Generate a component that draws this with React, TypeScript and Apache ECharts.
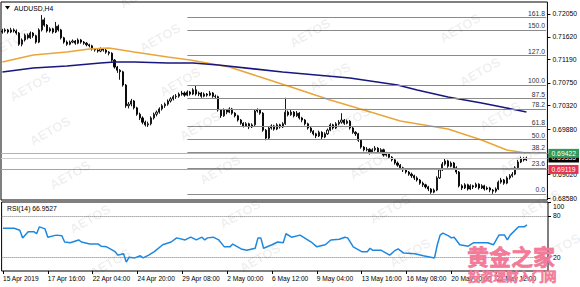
import React, { useEffect, useRef } from "react";
import * as echarts from "echarts";

const tickLabels = ["15 Apr 2019", "17 Apr 16:00", "22 Apr 04:00", "24 Apr 20:00", "29 Apr 08:00", "2 May 00:00", "6 May 12:00", "9 May 04:00", "13 May 16:00", "16 May 08:00", "20 May 20:00", "23 May 12:00"];
const barsPerLabel = 16;
const totalSlots = 195;

const opens = [
  0.7171,0.7173,0.7175,0.7171,0.7175,0.7173,0.7169,0.7148,0.7156,0.7165,
  0.7160,0.7169,0.7164,0.7152,0.7175,0.7194,0.7184,0.7173,0.7177,0.7171,
  0.7182,0.7175,0.7160,0.7152,0.7148,0.7152,0.7154,0.7150,0.7156,0.7152,
  0.7150,0.7147,0.7145,0.7139,0.7137,0.7135,0.7139,0.7137,0.7133,0.7131,
  0.7118,0.7105,0.7099,0.7096,0.7071,0.7032,0.7035,0.7041,0.7028,0.7016,
  0.7009,0.7001,0.6996,0.6998,0.7009,0.7016,0.7020,0.7026,0.7032,0.7035,
  0.7041,0.7045,0.7049,0.7050,0.7054,0.7056,0.7052,0.7058,0.7054,0.7062,
  0.7054,0.7056,0.7050,0.7054,0.7052,0.7056,0.7050,0.7049,0.7024,0.7013,
  0.7024,0.7020,0.7026,0.7018,0.7013,0.7005,0.6999,0.6994,0.6998,0.6992,
  0.6996,0.7022,0.7024,0.7018,0.6986,0.6971,0.6990,0.6994,0.6988,0.6996,
  0.6992,0.6998,0.7020,0.7015,0.7020,0.7013,0.7018,0.7009,0.7005,0.6998,
  0.6990,0.6984,0.6979,0.6975,0.6982,0.6973,0.6979,0.6986,0.6996,0.6990,
  0.6998,0.7001,0.7005,0.6999,0.7003,0.6990,0.6982,0.6979,0.6967,0.6954,
  0.6949,0.6950,0.6943,0.6949,0.6952,0.6945,0.6949,0.6939,0.6941,0.6935,
  0.6930,0.6924,0.6920,0.6915,0.6911,0.6907,0.6903,0.6900,0.6896,0.6892,
  0.6886,0.6883,0.6879,0.6875,0.6869,0.6873,0.6896,0.6911,0.6922,0.6928,
  0.6918,0.6924,0.6915,0.6907,0.6881,0.6877,0.6883,0.6875,0.6881,0.6879,
  0.6884,0.6877,0.6881,0.6875,0.6877,0.6873,0.6871,0.6875,0.6888,0.6892,
  0.6886,0.6896,0.6900,0.6903,0.6915,0.6926,0.6932,0.6930
];
const closes = [
  0.7173,0.7175,0.7171,0.7175,0.7173,0.7169,0.7148,0.7156,0.7165,0.7160,
  0.7169,0.7164,0.7152,0.7175,0.7194,0.7184,0.7173,0.7177,0.7171,0.7182,
  0.7175,0.7160,0.7152,0.7148,0.7152,0.7154,0.7150,0.7156,0.7152,0.7150,
  0.7147,0.7145,0.7139,0.7137,0.7135,0.7139,0.7137,0.7133,0.7131,0.7118,
  0.7105,0.7099,0.7096,0.7071,0.7032,0.7035,0.7041,0.7028,0.7016,0.7009,
  0.7001,0.6996,0.6998,0.7009,0.7016,0.7020,0.7026,0.7032,0.7035,0.7041,
  0.7045,0.7049,0.7050,0.7054,0.7056,0.7052,0.7058,0.7054,0.7062,0.7054,
  0.7056,0.7050,0.7054,0.7052,0.7056,0.7050,0.7049,0.7024,0.7013,0.7024,
  0.7020,0.7026,0.7018,0.7013,0.7005,0.6999,0.6994,0.6998,0.6992,0.6996,
  0.7022,0.7024,0.7018,0.6986,0.6971,0.6990,0.6994,0.6988,0.6996,0.6992,
  0.6998,0.7020,0.7015,0.7020,0.7013,0.7018,0.7009,0.7005,0.6998,0.6990,
  0.6984,0.6979,0.6975,0.6982,0.6973,0.6979,0.6986,0.6996,0.6990,0.6998,
  0.7001,0.7005,0.6999,0.7003,0.6990,0.6982,0.6979,0.6967,0.6954,0.6949,
  0.6950,0.6943,0.6949,0.6952,0.6945,0.6949,0.6939,0.6941,0.6935,0.6930,
  0.6924,0.6920,0.6915,0.6911,0.6907,0.6903,0.6900,0.6896,0.6892,0.6886,
  0.6883,0.6879,0.6875,0.6869,0.6873,0.6896,0.6911,0.6922,0.6928,0.6918,
  0.6924,0.6915,0.6907,0.6881,0.6877,0.6883,0.6875,0.6881,0.6879,0.6884,
  0.6877,0.6881,0.6875,0.6877,0.6873,0.6871,0.6875,0.6888,0.6892,0.6886,
  0.6896,0.6900,0.6903,0.6915,0.6926,0.6932,0.6930,0.69335
];
const lows = [
  0.7168,0.7170,0.7168,0.7169,0.7170,0.7166,0.7145,0.7144,0.7153,0.7157,
  0.7158,0.7160,0.7149,0.7150,0.7172,0.7181,0.7170,0.7170,0.7168,0.7169,
  0.7172,0.7157,0.7149,0.7145,0.7146,0.7150,0.7147,0.7148,0.7149,0.7147,
  0.7144,0.7142,0.7136,0.7134,0.7132,0.7133,0.7134,0.7130,0.7127,0.7115,
  0.7102,0.7094,0.7081,0.7068,0.7028,0.7027,0.7031,0.7025,0.7013,0.7005,
  0.6997,0.6993,0.6992,0.6995,0.7006,0.7012,0.7017,0.7023,0.7028,0.7032,
  0.7038,0.7042,0.7045,0.7047,0.7051,0.7049,0.7050,0.7051,0.7052,0.7051,
  0.7050,0.7047,0.7048,0.7049,0.7050,0.7047,0.7045,0.7021,0.7009,0.7011,
  0.7016,0.7018,0.7015,0.7010,0.7002,0.6996,0.6991,0.6992,0.6988,0.6990,
  0.6994,0.7019,0.7015,0.6983,0.6967,0.6969,0.6987,0.6985,0.6986,0.6989,
  0.6990,0.6996,0.7012,0.7013,0.7010,0.7011,0.7006,0.7001,0.6995,0.6987,
  0.6981,0.6976,0.6971,0.6973,0.6969,0.6971,0.6977,0.6984,0.6987,0.6988,
  0.6995,0.6998,0.6996,0.6997,0.6987,0.6979,0.6975,0.6964,0.6951,0.6946,
  0.6946,0.6940,0.6941,0.6946,0.6942,0.6943,0.6936,0.6936,0.6932,0.6927,
  0.6921,0.6917,0.6911,0.6907,0.6904,0.6900,0.6896,0.6892,0.6889,0.6883,
  0.6879,0.6876,0.6871,0.6866,0.6867,0.6871,0.6894,0.6909,0.6919,0.6915,
  0.6916,0.6911,0.6903,0.6878,0.6873,0.6875,0.6872,0.6873,0.6875,0.6877,
  0.6874,0.6875,0.6872,0.6873,0.6869,0.6866,0.6868,0.6873,0.6885,0.6883,
  0.6884,0.6893,0.6897,0.6901,0.6913,0.6924,0.6927,0.6928
];
const highs = [
  0.7177,0.7178,0.7177,0.7179,0.7178,0.7176,0.7171,0.7159,0.7168,0.7168,
  0.7172,0.7171,0.7166,0.7178,0.7203,0.7198,0.7186,0.7180,0.7179,0.7190,
  0.7185,0.7177,0.7162,0.7155,0.7155,0.7157,0.7156,0.7159,0.7158,0.7154,
  0.7152,0.7149,0.7147,0.7141,0.7140,0.7142,0.7141,0.7139,0.7135,0.7133,
  0.7120,0.7107,0.7101,0.7098,0.7073,0.7039,0.7045,0.7043,0.7030,0.7019,
  0.7012,0.7004,0.7002,0.7012,0.7019,0.7023,0.7029,0.7035,0.7038,0.7044,
  0.7048,0.7052,0.7054,0.7057,0.7060,0.7059,0.7061,0.7060,0.7065,0.7071,
  0.7059,0.7058,0.7057,0.7056,0.7060,0.7058,0.7053,0.7051,0.7026,0.7027,
  0.7026,0.7029,0.7028,0.7020,0.7015,0.7007,0.7001,0.7001,0.7000,0.6999,
  0.7025,0.7027,0.7026,0.7020,0.6988,0.6993,0.6997,0.6996,0.6999,0.6998,
  0.7001,0.7047,0.7023,0.7024,0.7022,0.7022,0.7020,0.7011,0.7007,0.7000,
  0.6992,0.6986,0.6981,0.6985,0.6984,0.6982,0.6989,0.6999,0.6998,0.7001,
  0.7005,0.7018,0.7007,0.7006,0.7005,0.6992,0.6984,0.6981,0.6969,0.6956,
  0.6954,0.6952,0.6952,0.6956,0.6954,0.6952,0.6951,0.6945,0.6943,0.6937,
  0.6932,0.6927,0.6922,0.6917,0.6914,0.6909,0.6906,0.6902,0.6899,0.6894,
  0.6889,0.6885,0.6881,0.6877,0.6876,0.6899,0.6914,0.6926,0.6932,0.6930,
  0.6927,0.6926,0.6918,0.6909,0.6884,0.6886,0.6885,0.6884,0.6883,0.6887,
  0.6886,0.6884,0.6883,0.6880,0.6879,0.6875,0.6878,0.6891,0.6896,0.6894,
  0.6899,0.6903,0.6907,0.6918,0.6930,0.6936,0.6935,0.6936
];

// moving averages as [barIndex, value]
const maOrange = [[0,0.71145],[11,0.71277],[23,0.71333],[31,0.71390],[38,0.71409],[47,0.71333],[59,0.71239],[67,0.71183],[81,0.71051],[92,0.70862],[103,0.70673],[117,0.70428],[129,0.70240],[142,0.70032],[159,0.69881],[171,0.69674],[180,0.69485],[187,0.69429]];
const maNavy = [[0,0.70956],[11,0.71032],[23,0.71069],[35,0.71126],[40,0.71145],[47,0.71145],[59,0.71126],[68,0.71126],[77,0.71088],[100,0.70956],[124,0.70843],[141,0.70711],[148,0.70617],[159,0.70485],[171,0.70372],[180,0.70277],[187,0.70202]];

const rsiValues = [[0,62],[4,62],[6,59],[7,48],[9,57],[11,57],[12,54],[13,64],[15,61],[16,49],[19,52],[21,51],[22,42],[24,41],[27,45],[28,42],[31,39],[34,39],[35,36],[37,35],[40,28],[41,23],[43,25],[44,13],[45,20],[47,19],[49,22],[50,19],[52,23],[54,28],[57,38],[60,42],[62,48],[65,45],[67,49],[69,45],[71,49],[72,45],[73,48],[75,49],[77,45],[79,35],[81,35],[82,39],[85,32],[87,30],[90,33],[91,48],[92,48],[93,33],[96,38],[98,42],[100,41],[101,54],[103,49],[106,52],[110,42],[112,35],[115,38],[117,45],[120,46],[122,49],[123,48],[125,35],[128,28],[130,28],[131,33],[132,30],[135,30],[138,23],[140,30],[141,32],[143,26],[147,25],[150,22],[154,19],[155,38],[156,52],[157,55],[159,51],[160,48],[161,49],[163,38],[166,36],[168,41],[171,41],[173,41],[175,38],[177,52],[179,52],[180,45],[181,52],[184,64],[186,64],[187,66.95]];
const rsiLabel = "RSI(14) 66.9527";
const rsiLevels = [80, 20];
const rsiTicks = [100, 80, 20];

const priceTicks = [0.7205, 0.7162, 0.7119, 0.7075, 0.7032, 0.6988, 0.6902, 0.6858];
const fibLow = 0.68655;
const fibHigh = 0.70711;
const fibStart = 66;
const fibLevels = [0, 23.6, 38.2, 50, 61.8, 78.2, 87.5, 100, 127, 150, 161.8];
const greenLevel = 0.69422;
const bidLevel = 0.69335;
const redLevel = 0.69119;

const FONT = "Liberation Sans";

export default function App() {
  const ref = useRef<HTMLDivElement>(null);
  useEffect(() => {
    const chart = echarts.init(ref.current!, null, { renderer: "svg" });
    const cats = Array.from({ length: totalSlots }, (_, i) => String(i));
    const candleData = opens.map((o, i) => [o, closes[i], lows[i], highs[i]]);

    const fibData: any[] = fibLevels.map((l) => {
      const p = fibLow + ((fibHigh - fibLow) * l) / 100;
      return [
        {
          coord: [fibStart, p],
          name: l.toFixed(1),
          lineStyle: { color: "#8a8a8a", width: 1, type: "solid" },
          label: { show: true, position: "insideEndTop", formatter: "{b}", fontSize: 6.8, color: "#333", distance: 1, fontFamily: FONT },
        },
        { coord: [totalSlots - 1, p] },
      ];
    });
    const boxLabel = (bg: string, v: number) => ({
      show: true,
      position: "end",
      formatter: v.toFixed(5),
      backgroundColor: bg,
      color: "#fff",
      fontSize: 6.8,
      fontFamily: FONT,
      padding: [1, 3, 1, 3],
      distance: 1,
    });
    const hLines: any[] = [
      { yAxis: bidLevel, lineStyle: { color: "#cfcfcf", width: 1, type: "solid" }, label: boxLabel("#000", bidLevel) },
      { yAxis: greenLevel, lineStyle: { color: "#9fbf9f", width: 1, type: "solid" }, label: boxLabel("#2f9a5a", greenLevel) },
      { yAxis: redLevel, lineStyle: { color: "#d0909a", width: 1, type: "solid" }, label: boxLabel("#e23350", redLevel) },
    ];

    // watermark lattice
    const marks: any[] = [];
    for (let k = -2; k <= 4; k++) {
      for (let j = -2; j <= 7; j++) {
        const x = 160 + 150 * k + 20 * j;
        const y = 38 - 5 * k + 44 * j;
        if (x < -20 || x > 600 || y < -10 || y > 295) continue;
        marks.push({
          type: "text", x, y, rotation: Math.PI / 6, silent: true, z: 50,
          style: { text: "AETOS", align: "center", verticalAlign: "middle", fontSize: 13, fontWeight: "bold", fontFamily: FONT, fill: "rgba(0,0,0,0.075)" },
        });
      }
    }

    chart.setOption({
      animation: false,
      backgroundColor: "#fff",
      textStyle: { fontFamily: FONT },
      grid: [
        { left: 1, top: 2, width: 547, height: 198, show: true, borderColor: "#000", borderWidth: 1, backgroundColor: "#fff" },
        { left: 1, top: 202, width: 547, height: 69, show: true, borderColor: "#000", borderWidth: 1, backgroundColor: "#fff" },
      ],
      xAxis: [
        { type: "category", gridIndex: 0, data: cats, boundaryGap: true, axisLine: { show: false }, axisTick: { show: false }, axisLabel: { show: false }, splitLine: { show: false } },
        {
          type: "category", gridIndex: 1, data: cats, boundaryGap: true,
          axisLine: { show: false },
          axisTick: { show: true, alignWithLabel: true, length: 3, interval: (i: number) => i % barsPerLabel === 0 && i / barsPerLabel < tickLabels.length, lineStyle: { color: "#000" } },
          axisLabel: {
            show: true, align: "left", margin: 4, fontSize: 6.6, color: "#000", fontFamily: FONT, hideOverlap: false,
            interval: (i: number) => i % barsPerLabel === 0 && i / barsPerLabel < tickLabels.length,
            formatter: (_v: string, i: number) => tickLabels[i / barsPerLabel] || "",
          },
          splitLine: { show: false },
        },
      ],
      yAxis: [
        {
          type: "value", gridIndex: 0, position: "right", min: 0.68543, max: 0.72276,
          splitLine: { show: false }, axisLine: { show: false },
          axisTick: { show: true, length: 3, customValues: priceTicks, lineStyle: { color: "#000" } },
          axisLabel: { show: true, customValues: priceTicks, formatter: (v: number) => v.toFixed(5), fontSize: 6.8, color: "#000", margin: 5, fontFamily: FONT },
        },
        {
          type: "value", gridIndex: 1, position: "right", min: 0, max: 100,
          splitLine: { show: false }, axisLine: { show: false },
          axisTick: { show: true, length: 3, customValues: rsiTicks, lineStyle: { color: "#000" } },
          axisLabel: {
            show: true, customValues: rsiTicks, fontSize: 6.8, color: "#000", margin: 5, fontFamily: FONT,
            formatter: (v: number) => (v === 100 ? "{t|100}" : String(v)),
            rich: { t: { fontSize: 6.8, fontFamily: FONT, color: "#000", padding: [8, 0, 0, 0] } },
          },
        },
      ],
      series: [
        {
          type: "candlestick", xAxisIndex: 0, yAxisIndex: 0, data: candleData, barWidth: 1.6,
          itemStyle: { color: "#fff", color0: "#000", borderColor: "#000", borderColor0: "#000", borderWidth: 0.9 },
          markLine: { silent: true, precision: 5, symbol: ["none", "none"], animation: false, data: [...fibData, ...hLines] },
          z: 3,
        },
        { type: "line", xAxisIndex: 0, yAxisIndex: 0, data: maOrange, showSymbol: false, smooth: false, lineStyle: { color: "#eaa63a", width: 1.6 }, z: 4 },
        { type: "line", xAxisIndex: 0, yAxisIndex: 0, data: maNavy, showSymbol: false, smooth: false, lineStyle: { color: "#17177f", width: 1.6 }, z: 4 },
        {
          type: "line", xAxisIndex: 1, yAxisIndex: 1, data: rsiValues, showSymbol: false, lineStyle: { color: "#1e88e0", width: 1.5 },
          markLine: {
            silent: true, precision: 2, symbol: ["none", "none"], label: { show: false },
            lineStyle: { color: "#777", type: "dotted", width: 1 },
            data: rsiLevels.map((v) => ({ yAxis: v })),
          },
        },
      ],
      graphic: [
        { type: "polygon", shape: { points: [[5, 6], [10, 6], [7.5, 9.5]] }, style: { fill: "#000" }, silent: true },
        { type: "text", x: 14, y: 8, style: { text: "AUDUSD,H4", fontSize: 6.8, fontFamily: FONT, fill: "#000", align: "left", verticalAlign: "middle" }, silent: true },
        { type: "text", x: 7, y: 208, style: { text: rsiLabel, fontSize: 6.8, fontFamily: FONT, fill: "#000", align: "left", verticalAlign: "middle" }, silent: true },
        ...marks,
        { type: "text", x: 467, y: 255, z: 60, silent: true, style: { text: "黄金之家", fontSize: 22, fontFamily: "Noto Sans CJK SC", fontWeight: "bold", fill: "#f37a98", stroke: "#e9557c", lineWidth: 0.5, align: "left", verticalAlign: "middle" } },
        { type: "text", x: 468, y: 275, z: 60, silent: true, style: { text: "投资理财入门网", fontSize: 12.7, fontFamily: "Noto Sans CJK SC", fontWeight: "bold", fill: "#f37a98", stroke: "#e9557c", lineWidth: 0.4, align: "left", verticalAlign: "middle" } },
      ],
    });
    return () => chart.dispose();
  }, []);
  return <div ref={ref} style={{ position: "fixed", left: 0, top: 0, width: 580, height: 287, background: "#fff" }} />;
}
